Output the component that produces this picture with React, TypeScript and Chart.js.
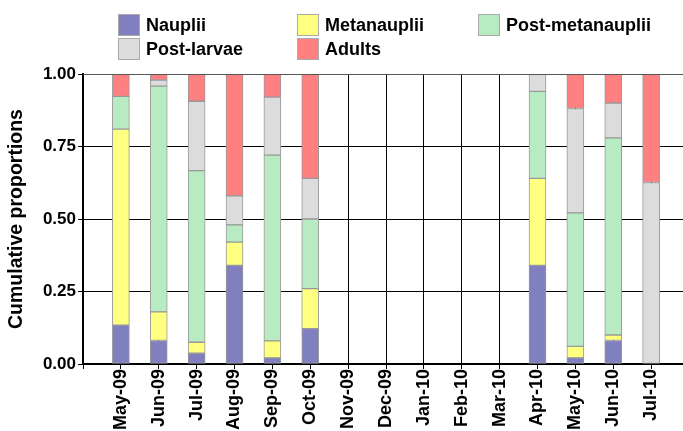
import React, { useEffect, useRef } from 'react';
import { Chart, registerables } from 'chart.js';
Chart.register(...registerables);

const months = ['May-09', 'Jun-09', 'Jul-09', 'Aug-09', 'Sep-09', 'Oct-09', 'Nov-09', 'Dec-09', 'Jan-10', 'Feb-10', 'Mar-10', 'Apr-10', 'May-10', 'Jun-10', 'Jul-10'];
const nauplii = [0.134, 0.081, 0.037, 0.34, 0.021, 0.122, null, null, null, null, null, 0.34, 0.021, 0.081, 0];
const metanauplii = [0.676, 0.099, 0.038, 0.08, 0.059, 0.138, null, null, null, null, null, 0.30, 0.04, 0.019, 0];
const postMetanauplii = [0.113, 0.778, 0.592, 0.06, 0.64, 0.24, null, null, null, null, null, 0.30, 0.46, 0.68, 0];
const postLarvae = [0, 0.021, 0.239, 0.10, 0.20, 0.14, null, null, null, null, null, 0.06, 0.36, 0.12, 0.626];
const adults = [0.077, 0.021, 0.094, 0.42, 0.08, 0.36, null, null, null, null, null, 0, 0.12, 0.10, 0.374];
const yTicks = [0, 0.25, 0.5, 0.75, 1.0];

const seriesNames = ['Nauplii', 'Metanauplii', 'Post-metanauplii', 'Post-larvae', 'Adults'];
const seriesColors = ['#8080C0', '#FFFF80', '#B9EBC2', '#DCDCDC', '#FF8080'];
const seriesData = [nauplii, metanauplii, postMetanauplii, postLarvae, adults];

const FONT = '"Liberation Sans", Arial, Helvetica, sans-serif';

const legendPos = [
  { x: 118, y: 14 },
  { x: 297, y: 14 },
  { x: 478, y: 14 },
  { x: 118, y: 38 },
  { x: 297, y: 38 },
];

const topLinePlugin = {
  id: 'topLine',
  afterDatasetsDraw(chart: any) {
    const { ctx, chartArea } = chart;
    ctx.save();
    ctx.strokeStyle = '#555';
    ctx.lineWidth = 1;
    ctx.beginPath();
    ctx.moveTo(chartArea.left, chartArea.top + 0.5);
    ctx.lineTo(chartArea.right, chartArea.top + 0.5);
    ctx.stroke();
    ctx.restore();
  },
};

export default function App() {
  const ref = useRef<HTMLCanvasElement | null>(null);

  useEffect(() => {
    if (!ref.current) return;
    const labels = ['', ...months, ''];
    const chart = new Chart(ref.current, {
      type: 'bar',
      data: {
        labels,
        datasets: seriesNames.map((name, i) => ({
          label: name,
          data: [null, ...seriesData[i], null],
          backgroundColor: seriesColors[i],
          borderColor: '#999999',
          borderWidth: 1,
          borderSkipped: false,
          barThickness: 17,
        })),
      },
      plugins: [topLinePlugin],
      options: {
        animation: false,
        responsive: false,
        devicePixelRatio: 1,
        layout: { padding: { top: 74, left: 0, right: 0, bottom: 0 } },
        plugins: { legend: { display: false }, tooltip: { enabled: false } },
        scales: {
          x: {
            stacked: true,
            offset: false,
            grid: { offset: false, color: '#000', lineWidth: 1, tickLength: 5, tickColor: '#000' },
            border: { color: '#000', width: 2 },
            ticks: {
              autoSkip: false,
              maxRotation: 90,
              minRotation: 90,
              color: '#000',
              padding: 0,
              font: { family: FONT, size: 18, weight: 'bold' },
            },
            afterFit: (s: any) => {
              s.height = 67;
              s.paddingLeft = 0;
              s.paddingRight = 0;
            },
          },
          y: {
            stacked: true,
            min: 0,
            max: 1,
            afterBuildTicks: (s: any) => {
              s.ticks = yTicks.map((v) => ({ value: v }));
            },
            ticks: {
              color: '#000',
              padding: 2,
              font: { family: FONT, size: 17, weight: 'bold' },
              callback: (v: any) => Number(v).toFixed(2),
            },
            grid: {
              color: (c: any) => (c.tick && c.tick.value === 1 ? '#555' : '#000'),
              lineWidth: 1,
              tickLength: 5,
              tickColor: '#000',
            },
            border: { color: '#000', width: 2 },
            title: {
              display: true,
              text: 'Cumulative proportions',
              color: '#000',
              font: { family: FONT, size: 19.5, weight: 'bold' },
              padding: { top: 5, bottom: 0 },
            },
            afterFit: (s: any) => {
              s.width = 83;
              s.paddingTop = 0;
              s.paddingBottom = 0;
            },
          },
        },
      },
    });
    return () => chart.destroy();
  }, []);

  return (
    <div style={{ position: 'absolute', left: 0, top: 0, width: 683, height: 431, overflow: 'hidden', background: '#fff' }}>
      <canvas ref={ref} width={689} height={431} style={{ position: 'absolute', left: 0, top: 0, width: 689, height: 431 }} />
      {seriesNames.map((name, i) => (
        <div
          key={name}
          style={{
            position: 'absolute',
            left: legendPos[i].x,
            top: legendPos[i].y,
            height: 22,
            display: 'flex',
            alignItems: 'center',
            fontFamily: FONT,
            fontWeight: 'bold',
            fontSize: 18,
            color: '#000',
            whiteSpace: 'nowrap',
          }}
        >
          <span
            style={{
              display: 'inline-block',
              width: 20,
              height: 20,
              background: seriesColors[i],
              border: '1px solid #aaa',
              marginRight: 6,
            }}
          />
          <span>{name}</span>
        </div>
      ))}
    </div>
  );
}
